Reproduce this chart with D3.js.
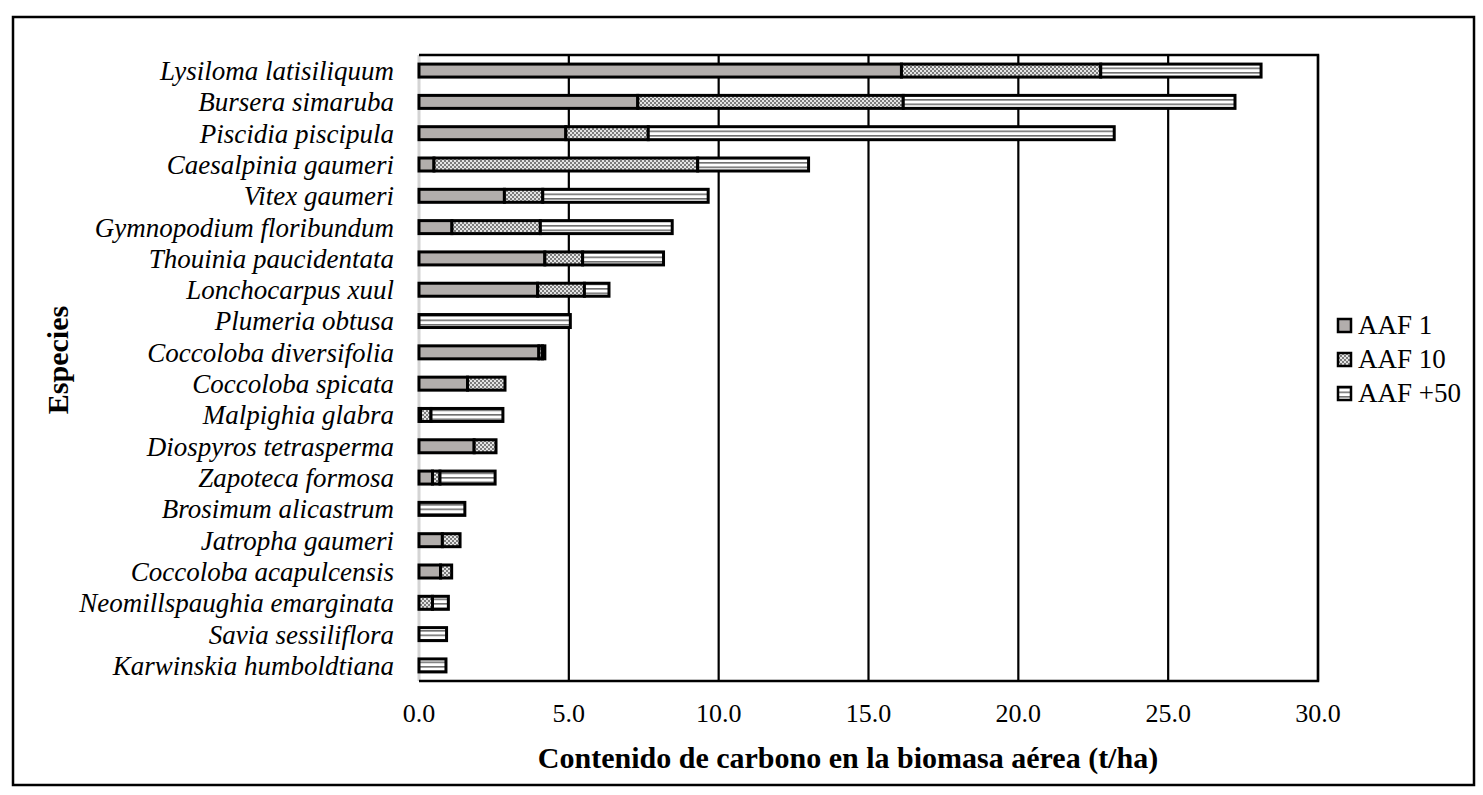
<!DOCTYPE html>
<html>
<head>
<meta charset="utf-8">
<script src="https://cdn.jsdelivr.net/npm/d3@7"></script>
<style>
  body { margin: 0; background: #fff; }
  svg text { font-family: "Liberation Serif", "Times New Roman", serif; fill: #000; }
</style>
</head>
<body>
<div id="canvas"></div>
<script>
const species = [
  "Lysiloma latisiliquum", "Bursera simaruba", "Piscidia piscipula", "Caesalpinia gaumeri",
  "Vitex gaumeri", "Gymnopodium floribundum", "Thouinia paucidentata", "Lonchocarpus xuul",
  "Plumeria obtusa", "Coccoloba diversifolia", "Coccoloba spicata", "Malpighia glabra",
  "Diospyros tetrasperma", "Zapoteca formosa", "Brosimum alicastrum", "Jatropha gaumeri",
  "Coccoloba acapulcensis", "Neomillspaughia emarginata", "Savia sessiliflora", "Karwinskia humboldtiana"
];
const aaf1  = [16.1, 7.3, 4.9, 0.5, 2.85, 1.1, 4.2, 3.96, 0, 4.0, 1.62, 0.05, 1.84, 0.45, 0, 0.78, 0.72, 0, 0, 0];
const aaf10 = [6.65, 8.86, 2.75, 8.8, 1.28, 2.95, 1.26, 1.56, 0, 0.12, 1.25, 0.35, 0.73, 0.25, 0, 0.59, 0.37, 0.45, 0, 0];
const aaf50 = [5.35, 11.07, 15.55, 3.7, 5.52, 4.4, 2.7, 0.82, 5.05, 0.08, 0, 2.4, 0, 1.84, 1.53, 0, 0, 0.53, 0.92, 0.9];
const seriesNames = ["AAF 1", "AAF 10", "AAF +50"];
const xTicks = [0, 5, 10, 15, 20, 25, 30];

const table = species.map((s, i) => ({ name: s, "AAF 1": aaf1[i], "AAF 10": aaf10[i], "AAF +50": aaf50[i] }));

const width = 1483;
const height = 795;

const svg = d3.select("#canvas").append("svg")
  .attr("width", width)
  .attr("height", height);

// patrones de relleno
const defs = svg.append("defs");
const checker = defs.append("pattern")
  .attr("id", "checker").attr("patternUnits", "userSpaceOnUse")
  .attr("width", 4).attr("height", 4);
checker.append("rect").attr("width", 4).attr("height", 4).attr("fill", "#e4e4e4");
checker.append("rect").attr("width", 2).attr("height", 2).attr("fill", "#7c7c7c");
checker.append("rect").attr("x", 2).attr("y", 2).attr("width", 2).attr("height", 2).attr("fill", "#7c7c7c");

const stripes = defs.append("pattern")
  .attr("id", "stripes").attr("patternUnits", "userSpaceOnUse")
  .attr("width", 8).attr("height", 4.5);
stripes.append("rect").attr("width", 8).attr("height", 4.5).attr("fill", "#ffffff");
stripes.append("rect").attr("y", 0).attr("width", 8).attr("height", 1.6).attr("fill", "#707070");

const fills = { "AAF 1": "#b2aeac", "AAF 10": "url(#checker)", "AAF +50": "url(#stripes)" };

// marco exterior
svg.append("rect")
  .attr("x", 13).attr("y", 17).attr("width", 1461).attr("height", 768)
  .attr("fill", "none").attr("stroke", "#000").attr("stroke-width", 2.5);

const x = d3.scaleLinear().domain([0, 30]).range([419, 1318]);
const y = d3.scaleBand().domain(species).range([55, 681]).paddingInner(0.585).paddingOuter(0.29);

// lineas de cuadricula
svg.append("g")
  .selectAll("line")
  .data(xTicks.filter(d => d > 0))
  .join("line")
  .attr("x1", d => x(d)).attr("x2", d => x(d))
  .attr("y1", 55).attr("y2", 681)
  .attr("stroke", "#000").attr("stroke-width", 2.2);

// eje en cero (gris)
svg.append("line")
  .attr("x1", x(0)).attr("x2", x(0)).attr("y1", 55).attr("y2", 681)
  .attr("stroke", "#d4d4d4").attr("stroke-width", 3);

// borde del area de trazado
svg.append("path")
  .attr("d", `M${x(0)},55 H${x(30)} V681 H${x(0)}`)
  .attr("fill", "none").attr("stroke", "#000").attr("stroke-width", 2.5);

const stack = d3.stack().keys(seriesNames);
const stacked = stack(table);

svg.append("g")
  .selectAll("g")
  .data(stacked)
  .join("g")
  .attr("fill", d => fills[d.key])
  .selectAll("rect")
  .data(d => d.filter(p => p[1] - p[0] > 0))
  .join("rect")
  .attr("x", d => x(d[0]))
  .attr("y", d => y(d.data.name))
  .attr("width", d => x(d[1]) - x(d[0]))
  .attr("height", y.bandwidth())
  .attr("stroke", "#000")
  .attr("stroke-width", 3);

// etiquetas de especies
svg.append("g")
  .selectAll("text")
  .data(species)
  .join("text")
  .attr("x", 394)
  .attr("y", d => y(d) + y.bandwidth() / 2)
  .attr("dy", "0.35em")
  .attr("text-anchor", "end")
  .attr("font-style", "italic")
  .attr("font-size", 27)
  .text(d => d);

// etiquetas del eje x
svg.append("g")
  .selectAll("text")
  .data(xTicks)
  .join("text")
  .attr("x", d => x(d))
  .attr("y", 722)
  .attr("text-anchor", "middle")
  .attr("font-size", 26)
  .text(d => d.toFixed(1));

svg.append("text")
  .attr("x", 848).attr("y", 768)
  .attr("text-anchor", "middle")
  .attr("font-weight", "bold")
  .attr("font-size", 30)
  .text("Contenido de carbono en la biomasa aérea (t/ha)");

svg.append("text")
  .attr("transform", "translate(68,360) rotate(-90)")
  .attr("text-anchor", "middle")
  .attr("font-weight", "bold")
  .attr("font-size", 30)
  .text("Especies");

// leyenda
const legend = svg.append("g")
  .selectAll("g")
  .data(seriesNames)
  .join("g")
  .attr("transform", (d, i) => `translate(1338,${319 + i * 34})`);

legend.append("rect")
  .attr("width", 13).attr("height", 13)
  .attr("fill", d => fills[d])
  .attr("stroke", "#000").attr("stroke-width", 2.5);

legend.append("text")
  .attr("x", 20).attr("y", 14.5)
  .attr("font-size", 27)
  .text(d => d);
</script>
</body>
</html>
